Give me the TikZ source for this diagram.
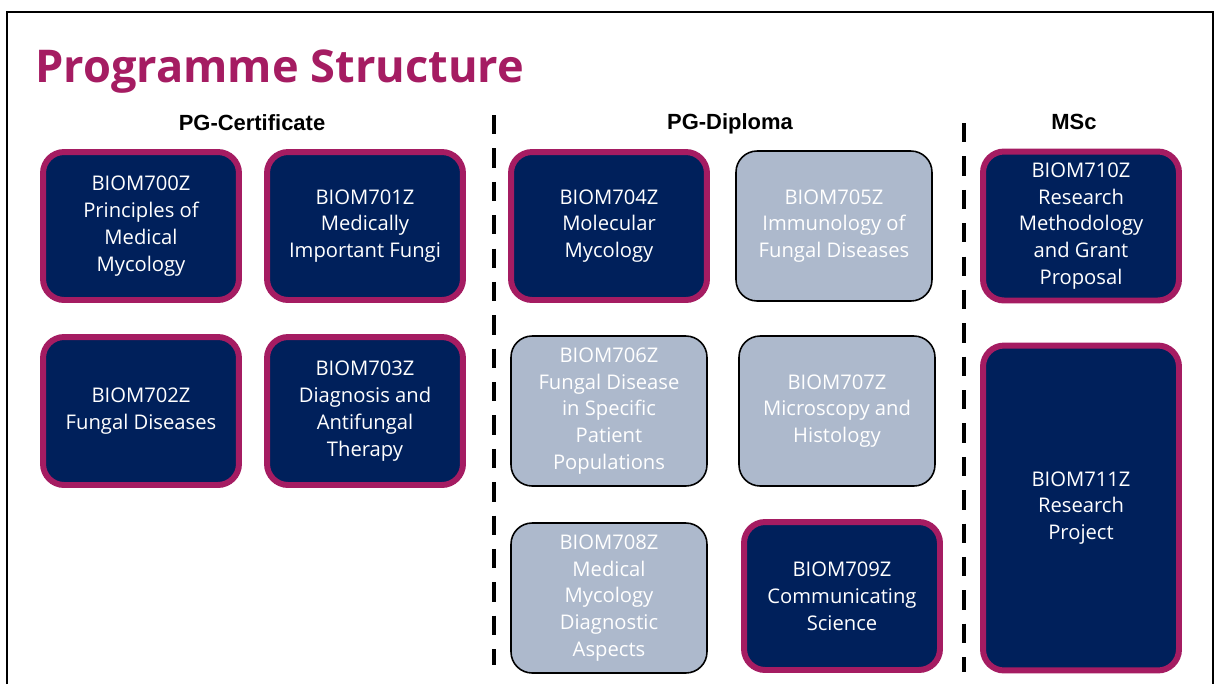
\documentclass[tikz,border=0pt]{standalone}
\usepackage{fontspec}
\setmainfont{Open Sans}
\newfontfamily\headfont{Liberation Sans}
\usepackage{tikz}
\usetikzlibrary{positioning}
\definecolor{navy}{RGB}{0,32,91}
\definecolor{plum}{RGB}{165,28,98}
\definecolor{slate}{RGB}{173,185,204}
\tikzset{
  every picture/.style = {
    x = 0.02cm,
    y = -0.02cm,
  }
  ,
  module/.style = {
    rectangle,
    rounded corners = 12pt,
    align = center,
    text = white,
    font = \fontsize{11.5}{15.3}\selectfont,
    inner sep = 2pt
  }
  , % compulsory modules
  core/.style = {
    module,
    fill = navy,
    draw = plum,
    line width = 3.4pt,
    minimum width = 3.92cm,
    minimum height = 2.96cm
  }
  , % optional modules
  option/.style = {
    module,
    fill = slate,
    draw = black,
    line width = 0.9pt,
    minimum width = 3.92cm,
    minimum height = 3.0cm
  }
  , % column headings
  head/.style = {
    font = \headfont\bfseries\fontsize{12.5}{14}\selectfont
  }
  ,
  divider/.style = {
    line width = 2pt,
    dash pattern = on 11pt off 8pt
  }
}

\begin{document}
\begin{tikzpicture}
  \useasboundingbox (0,0) rectangle (1218,684);

  % frame
  \coordinate (fbl) at (7,684);
  \coordinate (ftl) at (7,12);
  \coordinate (ftr) at (1213,12);
  \coordinate (fbr) at (1213,684);
  \draw[line width=0.9pt] (fbl) -- (ftl) -- (ftr) -- (fbr);

  \node[anchor=base west, inner sep=0pt, text=plum,
        font=\bfseries\fontsize{25.7}{30}\selectfont] (title) at (35,82) {Programme Structure};

  \node[head] (cert) at (252,123) {PG-Certificate};
  \node[head] (dipl) at (730,124) {PG-Diploma};
  \node[head] (msc) at (1074,122) {MSc};

  % PG-Certificate
  \node[core] (m700) at (141,226) {BIOM700Z\\Principles of\\Medical\\Mycology};
  \node[core] (m701) at (365,226) {BIOM701Z\\Medically\\Important Fungi};
  \node[core] (m702) at (141,411) {BIOM702Z\\Fungal Diseases};
  \node[core] (m703) at (365,411) {BIOM703Z\\Diagnosis and\\Antifungal\\Therapy};

  % PG-Diploma
  \node[core] (m704) at (609,226) {BIOM704Z\\Molecular\\Mycology};
  \node[option] (m705) at (834,226) {BIOM705Z\\Immunology of\\Fungal Diseases};
  \node[option] (m706) at (609,411) {BIOM706Z\\Fungal Disease\\in Specific\\Patient\\Populations};
  \node[option] (m707) at (837,411) {BIOM707Z\\Microscopy and\\Histology};
  \node[option] (m708) at (609,598) {BIOM708Z\\Medical\\Mycology\\Diagnostic\\Aspects};
  \node[core] (m709) at (842,596) {BIOM709Z\\Communicating\\Science};

  % MSc
  \node[core, minimum height=2.98cm] (m710) at (1081,226) {BIOM710Z\\Research\\Methodology\\and Grant\\Proposal};
  \node[core, minimum height=6.5cm] (m711) at (1081,508) {BIOM711Z\\Research\\Project};

  \coordinate (d1top) at (494,115);
  \coordinate (d1bot) at (494,665);
  \coordinate (d2top) at (964,123);
  \coordinate (d2bot) at (964,672);
  \draw[divider] (d1top) -- (d1bot);
  \draw[divider] (d2top) -- (d2bot);
\end{tikzpicture}
\end{document}
